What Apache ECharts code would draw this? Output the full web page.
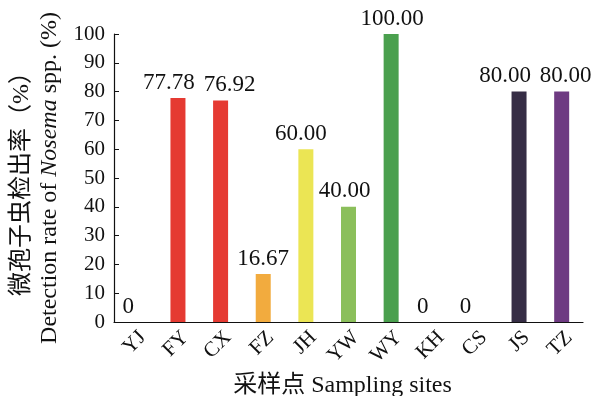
<!DOCTYPE html>
<html>
<head>
<meta charset="utf-8">
<script src="https://cdn.jsdelivr.net/npm/echarts@6/dist/echarts.min.js"></script>
<style>
  html, body { margin: 0; padding: 0; background: #fff; }
  #chart { width: 603px; height: 396px; }
</style>
</head>
<body>
<div id="chart"></div>
<script>
// Sampling sites and Nosema detection rates (%)
const sites = ['YJ', 'FY', 'CX', 'FZ', 'JH', 'YW', 'WY', 'KH', 'CS', 'JS', 'TZ'];
const rates = [0, 77.78, 76.92, 16.67, 60.00, 40.00, 100.00, 0, 0, 80.00, 80.00];
const barColors = ['#E53A32', '#E53A32', '#E53A32', '#F2AB3E', '#EBE554', '#8BBF5B',
                   '#4AA04E', '#E53A32', '#E53A32', '#362D45', '#6E3A82'];
// horizontal nudges so neighbouring value labels do not collide
const labelShift = [-7, -9, 9, 0, -5, -4, 1, -11, -11, -14, 4];
const yTicks = [0, 10, 20, 30, 40, 50, 60, 70, 80, 90, 100];

const serif = '"Liberation Serif", "Times New Roman", "Noto Sans CJK SC", serif';

const chart = echarts.init(document.getElementById('chart'));
chart.setOption({
  animation: false,
  backgroundColor: '#fff',
  grid: { left: 114, right: 20, top: 34, bottom: 74, outerBoundsMode: 'none', containLabel: false },
  xAxis: {
    type: 'category',
    data: sites,
    name: '采样点 Sampling sites',
    nameLocation: 'middle',
    nameGap: 50,
    nameTextStyle: { fontFamily: serif, fontSize: 24, color: '#111', padding: [0, 12, 0, 0] },
    axisLine: { lineStyle: { color: '#111', width: 1.2 } },
    axisTick: { inside: true, length: 5, lineStyle: { color: '#111' } },
    axisLabel: {
      rotate: 45, fontFamily: serif, fontSize: 21, color: '#111',
      margin: 5, verticalAlign: 'top'
    }
  },
  yAxis: {
    type: 'value',
    min: yTicks[0],
    max: yTicks[yTicks.length - 1],
    interval: 10,
    name: '{cn|微孢子虫检出率（%）}\n{en|Detection rate of }{it|Nosema}{en| spp. (%)}',
    nameLocation: 'middle',
    nameRotate: 90,
    nameGap: 50,
    nameTextStyle: {
      rich: {
        cn: { fontFamily: serif, fontSize: 24, color: '#111', lineHeight: 28 },
        en: { fontFamily: serif, fontSize: 24, color: '#111', lineHeight: 28 },
        it: { fontFamily: serif, fontSize: 24, color: '#111', fontStyle: 'italic', lineHeight: 28 }
      }
    },
    splitLine: { show: false },
    axisLine: { show: true, lineStyle: { color: '#111', width: 1.2 } },
    axisTick: { show: true, inside: true, length: 5, lineStyle: { color: '#111' } },
    axisLabel: { fontFamily: serif, fontSize: 21, color: '#111', margin: 9 }
  },
  series: [{
    type: 'bar',
    barWidth: 15,
    data: rates.map((v, i) => ({
      value: v,
      itemStyle: { color: barColors[i] },
      label: { offset: [labelShift[i], 0] }
    })),
    label: {
      show: true,
      position: 'top',
      distance: 4,
      fontFamily: serif,
      fontSize: 23,
      color: '#111',
      formatter: p => p.value === 0 ? '0' : p.value.toFixed(2)
    }
  }]
});
</script>
</body>
</html>
